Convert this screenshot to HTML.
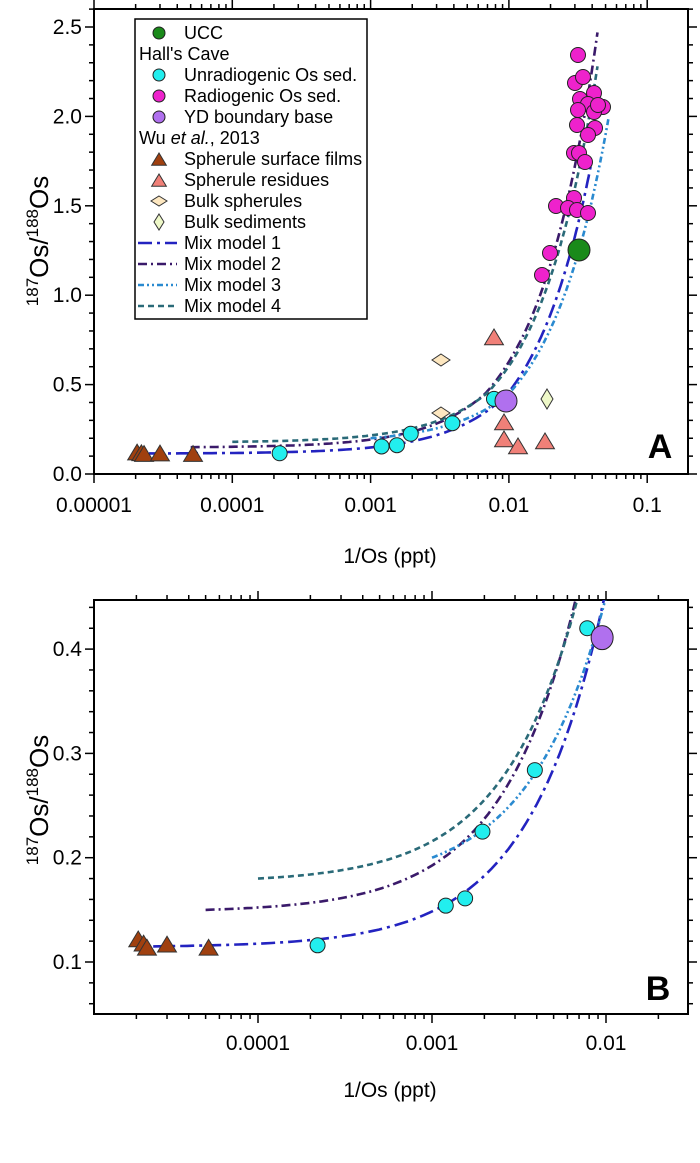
<!DOCTYPE html>
<html><head><meta charset="utf-8"><style>
html,body{margin:0;padding:0;background:#fff}
svg{display:block;font-family:"Liberation Sans",Arial,sans-serif}
</style></head><body>
<svg id="s" width="700" height="1163" viewBox="0 0 700 1163" xmlns="http://www.w3.org/2000/svg"></svg>
<script>
const S=document.getElementById('s');let h='';
function ln(x1,y1,x2,y2,w){h+=`<line x1="${x1}" y1="${y1}" x2="${x2}" y2="${y2}" stroke="#000" stroke-width="${w||1.5}"/>`;}
function tx(x,y,t,sz,anc,extra){h+=`<text x="${x}" y="${y}" font-size="${sz}" text-anchor="${anc||'middle'}" ${extra||''}>${t}</text>`;}
const A={L:94,R:688,T:9,B:474,x0:-5,dec:138.3,y0:0,ys:178.8};
const Bp={L:94,R:688,T:600,B:1014,x0:-4-164/174,dec:174,ys:1043};
A.X=v=>A.L+(Math.log10(v)-A.x0)*A.dec; A.Y=v=>A.B-v*A.ys;
Bp.X=v=>Bp.L+(Math.log10(v)-Bp.x0)*Bp.dec; Bp.Y=v=>962-(v-0.1)*Bp.ys;
function frame(P,yt,ymaj,ymin,ymax,xlabels,yfmt){
  h+=`<rect x="${P.L}" y="${P.T}" width="${P.R-P.L}" height="${P.B-P.T}" fill="none" stroke="#000" stroke-width="2"/>`;
  for(let e=-6;e<=0;e++)for(let m=1;m<10;m++){const v=m*Math.pow(10,e);const x=P.X(v);if(x<P.L-0.5||x>P.R+0.5)continue;const L=m==1?9:5;ln(x,P.B,x,P.B+L);ln(x,P.T,x,P.T-L);}
  for(let v=ymin;v<=ymax+1e-9;v+=yt){const y=P.Y(v);if(y<P.T-0.5||y>P.B+0.5)continue;const isM=Math.abs(Math.round(v/ymaj)*ymaj-v)<1e-6;const L=isM?9:5;ln(P.L,y,P.L-L,y);ln(P.R,y,P.R+L,y);}
  for(let v=0;v<=ymax+1e-9;v+=ymaj){const y=P.Y(v);if(y<P.T-0.5||y>P.B+0.5)continue;tx(P.L-12,y+7,yfmt(v),21,'end');}
}
frame(A,0.1,0.5,0,2.6,null,v=>v.toFixed(1));
frame(Bp,0.02,0.1,0.04,0.46,null,v=>v.toFixed(1));
[[0.00001,'0.00001'],[0.0001,'0.0001'],[0.001,'0.001'],[0.01,'0.01'],[0.1,'0.1']].forEach(([v,t])=>tx(A.X(v),512,t,21));
[[0.0001,'0.0001'],[0.001,'0.001'],[0.01,'0.01']].forEach(([v,t])=>tx(Bp.X(v),1050,t,21));
tx(390,563,'1/Os (ppt)',21);tx(390,1097,'1/Os (ppt)',21);
function ytitle(cy){h+=`<text transform="translate(48,${cy}) rotate(-90)" font-size="26" text-anchor="middle"><tspan font-size="17" dy="-10">187</tspan><tspan dy="10">Os/</tspan><tspan font-size="17" dy="-10">188</tspan><tspan dy="10">Os</tspan></text>`;}
ytitle(241);ytitle(800);
tx(660,458,'A',34,'middle','font-weight="bold"');tx(658,1000,'B',34,'middle','font-weight="bold"');
const models=[
 {c:'#2323c0',d:'14 5 3 5',p:[[2.5e-5,0.115],[0.0098,0.45],[0.039,1.72]]},
 {c:'#3a1a6a',d:'9 4 2 4',p:[[5e-5,0.15],[0.00675,0.45],[0.0437,2.47]]},
 {c:'#2a8ad0',d:'6 3 2 3 2 3',p:[[0.001,0.2],[0.01,0.45],[0.0528,2.0]]},
 {c:'#2a6a78',d:'6 4',p:[[1e-4,0.18],[0.0069,0.45],[0.0437,2.28]]}];
function curve(P,m,clipId){let pts=[];for(let i=0;i<m.p.length-1;i++){const [x1,y1]=m.p[i],[x2,y2]=m.p[i+1];for(let k=0;k<=80;k++){const t=k/80;const x=Math.exp(Math.log(x1)+(Math.log(x2)-Math.log(x1))*t);const y=y1+(y2-y1)*(x-x1)/(x2-x1);pts.push(P.X(x).toFixed(1)+','+P.Y(y).toFixed(1));}}
 h+=`<polyline clip-path="url(#${clipId})" points="${pts.join(' ')}" fill="none" stroke="${m.c}" stroke-width="2.6" stroke-dasharray="${m.d}"/>`;}
h+=`<defs><clipPath id="ca"><rect x="94" y="9" width="594" height="465"/></clipPath><clipPath id="cb"><rect x="94" y="600" width="594" height="414"/></clipPath></defs>`;
models.forEach(m=>curve(A,m,'ca'));models.forEach(m=>curve(Bp,m,'cb'));
function circ(x,y,r,f){h+=`<circle cx="${x}" cy="${y}" r="${r}" fill="${f}" stroke="#222" stroke-width="1"/>`;}
function tri(x,y,s,f){h+=`<polygon points="${x},${y-s} ${x-s*1.05},${y+s*0.75} ${x+s*1.05},${y+s*0.75}" fill="${f}" stroke="#333" stroke-width="1"/>`;}
function dia(x,y,w,hh,f){h+=`<polygon points="${x},${y-hh} ${x+w},${y} ${x},${y+hh} ${x-w},${y}" fill="${f}" stroke="#333" stroke-width="1"/>`;}
const films=[[2.05e-5,0.122],[2.2e-5,0.118],[2.3e-5,0.114],[3e-5,0.117],[5.2e-5,0.114]];
films.forEach(([x,y])=>tri(A.X(x),A.Y(y)+1,9,'#a0400f'));
[[494,338],[504,423],[504,440],[518,447],[545,442]].forEach(([x,y])=>tri(x,y,9,'#f08078'));
dia(441,360,9,6,'#fde7c0');dia(441,413,9,6,'#fde7c0');dia(547,399,6,10,'#eef8c8');
const unr=[[2.2e-4,0.116],[1.2e-3,0.154],[1.55e-3,0.161],[1.95e-3,0.225],[3.9e-3,0.284],[7.8e-3,0.42]];
unr.forEach(([x,y])=>circ(A.X(x),A.Y(y),7.5,'#22eeee'));
circ(506,401,11,'#b070ee');
[[578,55],[575,83],[583,77],[580,99],[594,93],[588,104],[603,107],[578,110],[594,112],[598,105],[577,125],[595,128],[588,135],[574,153],[579,153],[585,162],[574,198],[556,206],[568,208],[577,210],[588,213],[550,253],[542,275]].forEach(([x,y])=>circ(x,y,7.5,'#ee22cc'));
circ(579,250,11,'#1a8a1a');
films.forEach(([x,y])=>tri(Bp.X(x),Bp.Y(y)+1,9,'#a0400f'));
unr.forEach(([x,y])=>circ(Bp.X(x),Bp.Y(y),7.5,'#22eeee'));
h+=`<ellipse cx="${Bp.X(0.0095)}" cy="${Bp.Y(0.411)}" rx="11" ry="12" fill="#b070ee" stroke="#222"/>`;
h+=`<rect x="135" y="19" width="232" height="300" fill="#fff" stroke="#000" stroke-width="1.5"/>`;
const rows=[['c','#1a8a1a','UCC'],['h','','Hall\'s Cave'],['c','#22eeee','Unradiogenic Os sed.'],['c','#ee22cc','Radiogenic Os sed.'],['c','#b070ee','YD boundary base'],['h','','Wu <tspan font-style="italic">et al.</tspan>, 2013'],['t','#a0400f','Spherule surface films'],['t','#f08078','Spherule residues'],['d','#fde7c0','Bulk spherules'],['e','#eef8c8','Bulk sediments'],['l',0,'Mix model 1'],['l',1,'Mix model 2'],['l',2,'Mix model 3'],['l',3,'Mix model 4']];
rows.forEach((r,i)=>{const y=33+i*21;const k=r[0];
 if(k=='h'){tx(139,y+6,r[2],18,'start');return;}
 if(k=='c')circ(159,y,6,r[1]);
 if(k=='t')tri(159,y+1,7,r[1]);
 if(k=='d')dia(159,y,8,5,r[1]);
 if(k=='e')dia(159,y,5,8,r[1]);
 if(k=='l'){const m=models[r[1]];h+=`<line x1="138" y1="${y}" x2="177" y2="${y}" stroke="${m.c}" stroke-width="2.6" stroke-dasharray="${m.d}"/>`;}
 tx(184,y+6,r[2],18,'start');});
S.innerHTML=h;
</script>
</body></html>
